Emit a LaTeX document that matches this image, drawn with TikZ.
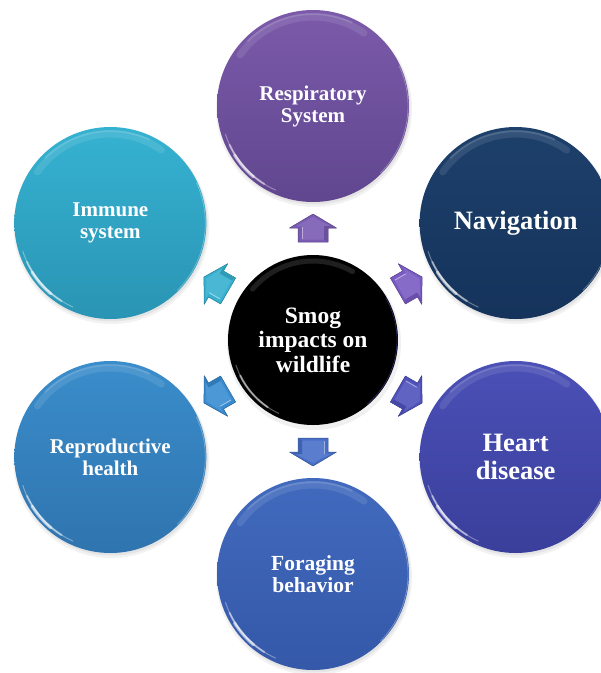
\documentclass[tikz,border=0pt]{standalone}
\usepackage{fontspec}
\setmainfont{Liberation Serif}
\usetikzlibrary{calc}

% disc colours (top / bottom of the shading) and arrow colours
\definecolor{respT}{HTML}{7B5AAA}\definecolor{respB}{HTML}{60468F}\definecolor{respA}{HTML}{7A5BB4}
\definecolor{navT}{HTML}{1D406B}\definecolor{navB}{HTML}{15335B}\definecolor{navA}{HTML}{785AC2}
\definecolor{heartT}{HTML}{4A50B6}\definecolor{heartB}{HTML}{3A3F9B}\definecolor{heartA}{HTML}{5052BC}
\definecolor{forT}{HTML}{416ABE}\definecolor{forB}{HTML}{3558A8}\definecolor{forA}{HTML}{476FC8}
\definecolor{repT}{HTML}{3A8DCB}\definecolor{repB}{HTML}{2F74AF}\definecolor{repA}{HTML}{388BD0}
\definecolor{immT}{HTML}{36B2D1}\definecolor{immB}{HTML}{2A94B4}\definecolor{immA}{HTML}{36B0D0}

\tikzset{
  bubbletext/.style={text=white, align=center, inner sep=0pt},
  rimlight/.style={white, line cap=round},
  arrowedge/.style={line width=0.5pt, line join=round},
}

\begin{document}
\begin{tikzpicture}[x=1pt,y=1pt]
\clip (0,0) rectangle (601,-673);

% central hub
\fill[black,opacity=0.06] (314,-343) circle (87);
\node[circle, minimum size=170pt, inner sep=0pt, fill=black, bubbletext,
      font=\bfseries\fontsize{23.5}{24.5}\selectfont] (hub) at (313,-340)
      {Smog\\impacts on\\wildlife};
\draw[rimlight, opacity=0.12, line width=5] ([shift={(60:79)}]hub.center) arc[start angle=60, end angle=140, radius=79];
\draw[rimlight, opacity=0.35, line width=1] ([shift={(198:81)}]hub.center) arc[start angle=198, end angle=245, radius=81];
\draw[rimlight, opacity=0.5, line width=2] ([shift={(206:81)}]hub.center) arc[start angle=206, end angle=236, radius=81];
\draw[color=gray!60!blue, opacity=0.5, line width=0.8] ([shift={(-50:84)}]hub.center) arc[start angle=-50, end angle=30, radius=84];

% outer discs and the block arrows pointing to them
\foreach \nm/\ang/\ct/\cb/\ac/\fsz/\lsk/\txt in {
  resp/90/respT/respB/respA/21/22/{Respiratory\\System},
  nav/30/navT/navB/navA/26.5/28/{Navigation},
  heart/-30/heartT/heartB/heartA/26.5/28/{Heart\\disease},
  forage/-90/forT/forB/forA/21.5/22/{Foraging\\behavior},
  repro/-150/repT/repB/repA/21/22/{Reproductive\\health},
  immune/150/immT/immB/immA/21/22/{Immune\\system}}
{
  \coordinate (\nm-c) at ($(hub.center)+(\ang:234)$);
  % soft shadow
  \fill[black,opacity=0.05] ([shift={(1,-3)}]\nm-c) circle (98);
  \fill[black,opacity=0.06] ([shift={(1,-2)}]\nm-c) circle (96.5);
  % the disc
  \node[circle, minimum size=192pt, inner sep=0pt, top color=\ct, bottom color=\cb,
        bubbletext, font=\bfseries\fontsize{\fsz}{\lsk}\selectfont] (\nm) at (\nm-c) {\txt};
  % glossy rim lights
  \draw[rimlight, opacity=0.10, line width=7] ([shift={(55:89)}]\nm.center) arc[start angle=55, end angle=145, radius=89];
  \draw[rimlight, opacity=0.14, line width=2] ([shift={(65:92)}]\nm.center) arc[start angle=65, end angle=135, radius=92];
  \draw[rimlight, opacity=0.35, line width=1] ([shift={(198:92)}]\nm.center) arc[start angle=198, end angle=246, radius=92];
  \draw[rimlight, opacity=0.45, line width=2] ([shift={(205:92)}]\nm.center) arc[start angle=205, end angle=238, radius=92];
  \draw[rimlight, opacity=0.55, line width=3] ([shift={(212:92.5)}]\nm.center) arc[start angle=212, end angle=230, radius=92.5];
  \draw[rimlight, opacity=0.3, line width=0.8] ([shift={(-45:95)}]\nm.center) arc[start angle=-45, end angle=25, radius=95];
  % bevelled block arrow from the hub towards the disc
  \begin{scope}[shift={($(hub.center)!98pt!(\nm.center)$)}, rotate=\ang]
    \filldraw[fill=\ac, draw=\ac!70!black, arrowedge]
      (0,-15) -- (14,-15) -- (14,-23.5) -- (28,0) -- (14,23.5) -- (14,15) -- (0,15) -- cycle;
    \fill[\ac!90!white] (2.5,-11) -- (16,-11) -- (16,-17) -- (25,0) -- (16,17) -- (16,11) -- (2.5,11) -- cycle;
    \fill[\ac!88!black] (2.5,-11) -- (16,-11) -- (16,-17) -- (14,-23.5) -- (14,-15) -- (0,-15) -- cycle;
    \draw[white, opacity=0.45, line width=1] (3,11) -- (15.5,11);
  \end{scope}
}
\end{tikzpicture}
\end{document}
